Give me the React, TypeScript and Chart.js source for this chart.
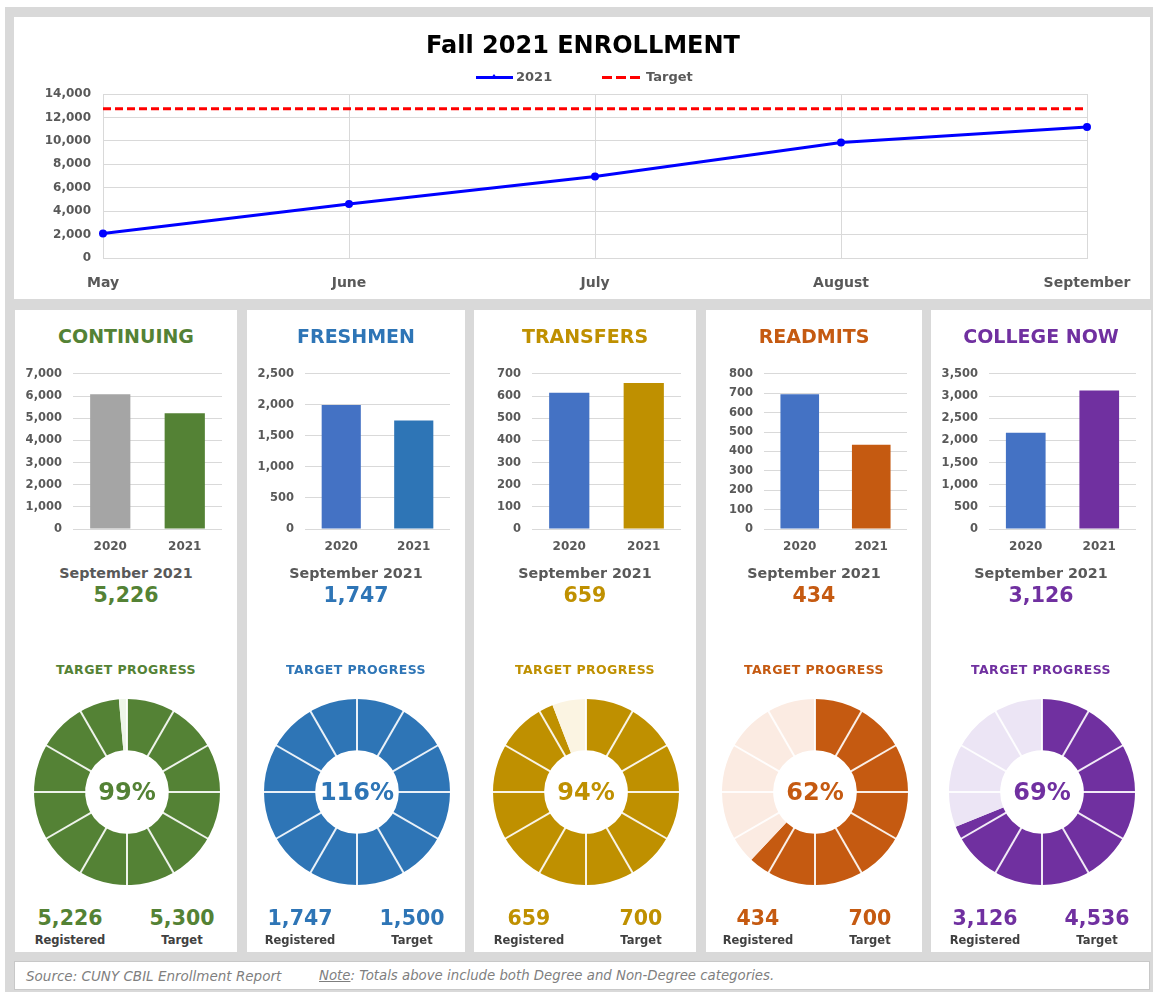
import React, { useEffect, useRef } from "react";
import { Chart, registerables } from "chart.js";

Chart.register(...registerables);

const FONT = '"DejaVu Sans", "Liberation Sans", Arial, sans-serif';
const TICK_GRAY = "#595959";
const GRID = "#d9d9d9";

// ---- Top line chart data ----
const months = ["May", "June", "July", "August", "September"];
const enrolled2021 = [2100, 4600, 6950, 9850, 11192];
const targetTotal = [12736, 12736, 12736, 12736, 12736];
const lineYMax = 14000;
const lineYStep = 2000;

// ---- Panel data ----
const groupNames = ["CONTINUING", "FRESHMEN", "TRANSFERS", "READMITS", "COLLEGE NOW"];
const barYears = ["2020", "2021"];
const sept2020 = [6080, 2000, 615, 695, 2170];
const sept2021 = [5226, 1747, 659, 434, 3126];
const registered = [5226, 1747, 659, 434, 3126];
const targets = [5300, 1500, 700, 700, 4536];
const barYMax = [7000, 2500, 700, 800, 3500];
const barYStep = [1000, 500, 100, 100, 500];

// ---- Colours ----
const groupColors = ["#548235", "#2e75b6", "#bf9000", "#c55a11", "#7030a0"];
const bar2020Colors = ["#a5a5a5", "#4472c4", "#4472c4", "#4472c4", "#4472c4"];
const remainderColors = ["#eef5e9", "#deebf7", "#fbf4e2", "#fbebe2", "#ece5f5"];

// ---- Layout ----
const PANEL_LEFT = [15, 247, 474, 706, 931];
const PANEL_WIDTH = [222, 218, 222, 216, 220];
const SEGMENTS = 12;

const fmt = (n: number) => Number(n).toLocaleString("en-US");

function LineChart() {
  const ref = useRef<HTMLCanvasElement>(null);
  useEffect(() => {
    const chart = new Chart(ref.current as HTMLCanvasElement, {
      type: "line",
      data: {
        labels: months,
        datasets: [
          {
            label: "2021",
            data: enrolled2021,
            borderColor: "#0000ff",
            backgroundColor: "#0000ff",
            borderWidth: 3,
            pointRadius: 2.5,
            pointHoverRadius: 2.5,
            tension: 0,
          },
          {
            label: "Target",
            data: targetTotal,
            borderColor: "#ff0000",
            backgroundColor: "#ff0000",
            borderWidth: 3,
            borderDash: [8, 4],
            pointRadius: 0,
            pointHoverRadius: 0,
          },
        ],
      },
      options: {
        animation: false,
        responsive: false,
        devicePixelRatio: 1,
        layout: { padding: { top: 77, right: 63, bottom: 0, left: 0 } },
        plugins: {
          legend: { display: false },
          title: { display: false },
          tooltip: { enabled: false },
        },
        scales: {
          x: {
            grid: { color: GRID, drawTicks: false },
            border: { color: GRID },
            ticks: {
              color: TICK_GRAY,
              font: { family: FONT, size: 14, weight: "bold" },
              padding: 17,
              maxRotation: 0,
              autoSkip: false,
            },
            afterFit: (s: any) => {
              s.height = 41;
            },
          },
          y: {
            min: 0,
            max: lineYMax,
            grid: { color: GRID, drawTicks: false },
            border: { display: false },
            ticks: {
              stepSize: lineYStep,
              color: TICK_GRAY,
              font: { family: FONT, size: 12, weight: "bold" },
              padding: 12,
              callback: (v: any) => fmt(v),
            },
            afterFit: (s: any) => {
              s.width = 89;
            },
          },
        },
      } as any,
    });
    return () => chart.destroy();
  }, []);
  return (
    <canvas
      ref={ref}
      width={1136}
      height={282}
      style={{ position: "absolute", left: 14, top: 17, width: 1136, height: 282 }}
    />
  );
}

function BarChart({ i }: { i: number }) {
  const ref = useRef<HTMLCanvasElement>(null);
  useEffect(() => {
    const chart = new Chart(ref.current as HTMLCanvasElement, {
      type: "bar",
      data: {
        labels: barYears,
        datasets: [
          {
            data: [sept2020[i], sept2021[i]],
            backgroundColor: [bar2020Colors[i], groupColors[i]],
            barPercentage: 0.54,
            categoryPercentage: 1,
            borderWidth: 0,
          },
        ],
      },
      options: {
        animation: false,
        responsive: false,
        devicePixelRatio: 1,
        layout: { padding: { top: 10, right: 15, bottom: 0, left: 0 } },
        plugins: { legend: { display: false }, tooltip: { enabled: false } },
        scales: {
          x: {
            grid: { display: false, drawTicks: false },
            border: { display: false },
            ticks: {
              color: TICK_GRAY,
              font: { family: FONT, size: 12, weight: "bold" },
              padding: 11,
            },
            afterFit: (s: any) => {
              s.height = 27;
            },
          },
          y: {
            min: 0,
            max: barYMax[i],
            grid: { color: GRID, drawTicks: false },
            border: { display: false },
            ticks: {
              stepSize: barYStep[i],
              color: TICK_GRAY,
              font: { family: FONT, size: 11.5, weight: "bold" },
              padding: 11,
              callback: (v: any) => fmt(v),
            },
            afterFit: (s: any) => {
              s.width = 58;
            },
          },
        },
      } as any,
    });
    return () => chart.destroy();
  }, [i]);
  return (
    <canvas
      ref={ref}
      width={PANEL_WIDTH[i]}
      height={200}
      style={{ position: "absolute", left: PANEL_LEFT[i], top: 356, width: PANEL_WIDTH[i], height: 200 }}
    />
  );
}

const separatorPlugin = {
  id: "segmentSeparators",
  afterDatasetsDraw(chart: any) {
    const meta = chart.getDatasetMeta(0);
    const arc = meta && meta.data && meta.data[0];
    if (!arc) return;
    const { x, y, innerRadius, outerRadius } = arc.getProps(
      ["x", "y", "innerRadius", "outerRadius"],
      true
    );
    const ctx = chart.ctx;
    ctx.save();
    ctx.strokeStyle = "rgba(255,255,255,0.9)";
    ctx.lineWidth = 2;
    for (let k = 0; k < SEGMENTS; k++) {
      const a = -Math.PI / 2 + (k * 2 * Math.PI) / SEGMENTS;
      ctx.beginPath();
      ctx.moveTo(x + Math.cos(a) * (innerRadius - 1), y + Math.sin(a) * (innerRadius - 1));
      ctx.lineTo(x + Math.cos(a) * (outerRadius + 1), y + Math.sin(a) * (outerRadius + 1));
      ctx.stroke();
    }
    ctx.restore();
  },
};

function Donut({ i, cx }: { i: number; cx: number }) {
  const ref = useRef<HTMLCanvasElement>(null);
  useEffect(() => {
    const chart = new Chart(ref.current as HTMLCanvasElement, {
      type: "doughnut",
      data: {
        labels: ["Registered", "Remaining"],
        datasets: [
          {
            data: [registered[i], Math.max(targets[i] - registered[i], 0)],
            backgroundColor: [groupColors[i], remainderColors[i]],
            borderWidth: 0,
          },
        ],
      },
      options: {
        animation: false,
        responsive: false,
        devicePixelRatio: 1,
        radius: 93,
        cutout: 45,
        layout: { padding: 0 },
        plugins: { legend: { display: false }, tooltip: { enabled: false } },
      } as any,
      plugins: [separatorPlugin as any],
    });
    return () => chart.destroy();
  }, [i]);
  return (
    <canvas
      ref={ref}
      width={200}
      height={200}
      style={{ position: "absolute", left: cx - 100, top: 692, width: 200, height: 200 }}
    />
  );
}

function Txt(props: {
  x: number;
  y: number;
  text: string;
  size: number;
  color: string;
  weight?: string;
  ls?: number;
}) {
  const { x, y, text, size, color, weight = "bold", ls = 0 } = props;
  return (
    <div
      style={{
        position: "absolute",
        left: x - 200,
        width: 400,
        top: y - size * 0.6,
        height: size * 1.2,
        lineHeight: `${size * 1.2}px`,
        fontSize: size,
        fontWeight: weight as any,
        color,
        textAlign: "center",
        fontFamily: FONT,
        whiteSpace: "nowrap",
        letterSpacing: ls,
      }}
    >
      {text}
    </div>
  );
}

export default function App() {
  return (
    <div
      style={{
        position: "absolute",
        left: 0,
        top: 0,
        width: 1153,
        height: 992,
        background: "#ffffff",
        overflow: "hidden",
        fontFamily: FONT,
      }}
    >
      <div style={{ position: "absolute", left: 5, top: 7, width: 1148, height: 985, background: "#d9d9d9" }} />
      {/* Top panel */}
      <div style={{ position: "absolute", left: 14, top: 17, width: 1136, height: 282, background: "#ffffff" }} />
      <LineChart />
      <Txt x={583} y={45} text="Fall 2021 ENROLLMENT" size={24} color="#000000" />
      {/* HTML legend */}
      <div style={{ position: "absolute", left: 476, top: 76, width: 37, height: 3, background: "#0000ff" }} />
      <div
        style={{
          position: "absolute",
          left: 491,
          top: 74,
          width: 0,
          height: 0,
          borderLeft: "3px solid transparent",
          borderRight: "3px solid transparent",
          borderBottom: "4px solid #0000ff",
        }}
      />
      <div
        style={{
          position: "absolute",
          left: 516,
          top: 69,
          height: 16,
          lineHeight: "16px",
          fontSize: 13,
          fontWeight: "bold",
          color: TICK_GRAY,
          fontFamily: FONT,
        }}
      >
        2021
      </div>
      {[0, 1, 2].map((k) => (
        <div
          key={k}
          style={{ position: "absolute", left: 602 + k * 14, top: 76, width: 10, height: 3, background: "#ff0000" }}
        />
      ))}
      <div
        style={{
          position: "absolute",
          left: 646,
          top: 69,
          height: 16,
          lineHeight: "16px",
          fontSize: 13,
          fontWeight: "bold",
          color: TICK_GRAY,
          fontFamily: FONT,
        }}
      >
        Target
      </div>

      {/* Bottom panels */}
      {groupNames.map((name, i) => {
        const left = PANEL_LEFT[i];
        const w = PANEL_WIDTH[i];
        const cx = left + w / 2;
        const pct = Math.round((registered[i] / targets[i]) * 100);
        return (
          <React.Fragment key={name}>
            <div style={{ position: "absolute", left, top: 310, width: w, height: 642, background: "#ffffff" }} />
            <Txt x={cx} y={336} text={name} size={19} color={groupColors[i]} />
            <BarChart i={i} />
            <Txt x={cx} y={574} text="September 2021" size={14.3} color={TICK_GRAY} />
            <Txt x={cx} y={595} text={fmt(sept2021[i])} size={20.5} color={groupColors[i]} />
            <Txt x={cx} y={669} text="TARGET PROGRESS" size={12.5} color={groupColors[i]} ls={0.4} />
            <Donut i={i} cx={cx + 1} />
            <Txt x={cx + 1} y={792} text={`${pct}%`} size={24} color={groupColors[i]} />
            <Txt x={cx - 56} y={918} text={fmt(registered[i])} size={20.5} color={groupColors[i]} />
            <Txt x={cx + 56} y={918} text={fmt(targets[i])} size={20.5} color={groupColors[i]} />
            <Txt x={cx - 56} y={941} text="Registered" size={11.5} color="#404040" />
            <Txt x={cx + 56} y={941} text="Target" size={11.5} color="#404040" />
          </React.Fragment>
        );
      })}

      {/* Footer */}
      <div
        style={{
          position: "absolute",
          left: 14,
          top: 961,
          width: 1136,
          height: 29,
          background: "#ffffff",
          boxSizing: "border-box",
          border: "1px solid #c8c8c8",
        }}
      />
      <div
        style={{
          position: "absolute",
          left: 26,
          top: 967,
          height: 18,
          lineHeight: "18px",
          fontSize: 13.5,
          fontStyle: "italic",
          color: "#7f7f7f",
          fontFamily: FONT,
          whiteSpace: "nowrap",
        }}
      >
        Source: CUNY CBIL Enrollment Report
      </div>
      <div
        style={{
          position: "absolute",
          left: 319,
          top: 967,
          height: 18,
          lineHeight: "18px",
          fontSize: 13.3,
          fontStyle: "italic",
          color: "#7f7f7f",
          fontFamily: FONT,
          whiteSpace: "nowrap",
        }}
      >
        <span style={{ textDecoration: "underline" }}>Note</span>: Totals above include both Degree and Non-Degree
        categories.
      </div>
    </div>
  );
}
